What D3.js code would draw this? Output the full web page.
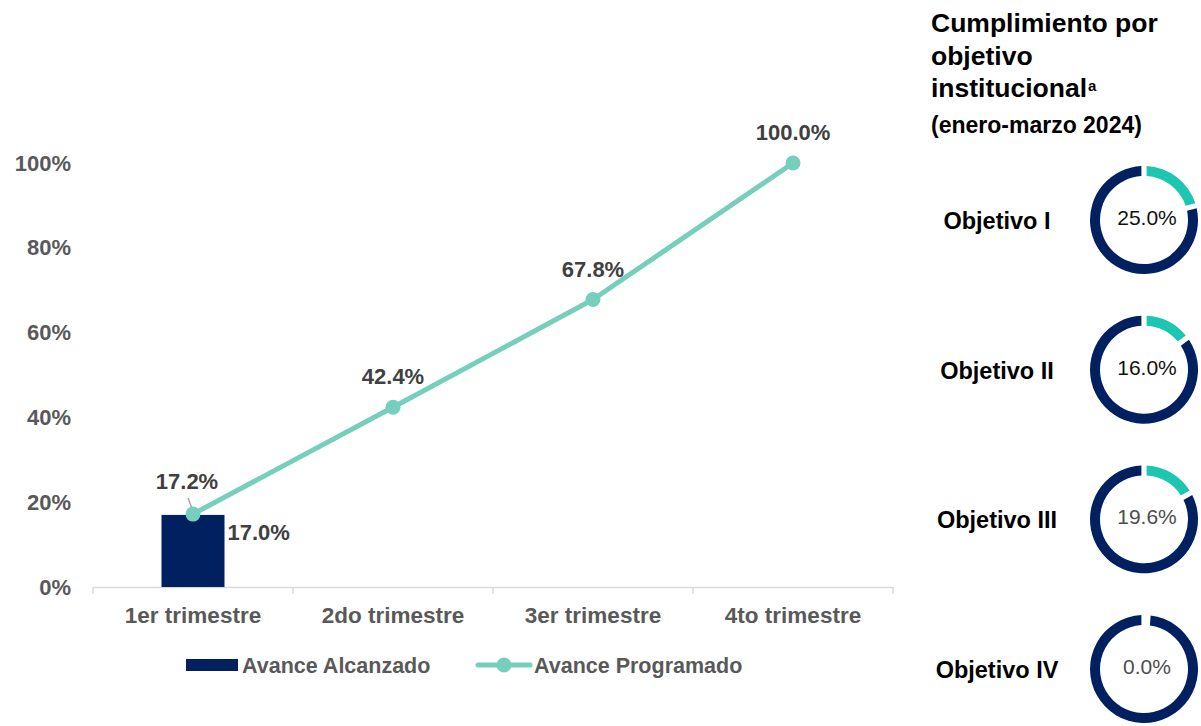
<!DOCTYPE html>
<html>
<head>
<meta charset="utf-8">
<script src="https://cdn.jsdelivr.net/npm/d3@7"></script>
<style>
  html, body { margin: 0; padding: 0; background: #ffffff; }
  svg { display: block; }
</style>
</head>
<body>
<svg id="chart" width="1201" height="726"></svg>
<script>
// ---------- data ----------
const categories = ["1er trimestre", "2do trimestre", "3er trimestre", "4to trimestre"];
const avanceAlcanzado = [17.0, null, null, null];
const avanceProgramado = [17.2, 42.4, 67.8, 100.0];
const yTicks = [0, 20, 40, 60, 80, 100];
const seriesNames = ["Avance Alcanzado", "Avance Programado"];

const objetivos = ["Objetivo I", "Objetivo II", "Objetivo III", "Objetivo IV"];
const cumplimiento = [25.0, 16.0, 19.6, 0.0];          // label shown in the ring
const arcoCumplido = [20, 14, 16, 0];                    // teal share of the ring as drawn (%)
const titleLines = ["Cumplimiento por", "objetivo", "institucional"];
const titleSup = "a";
const subtitle = "(enero-marzo 2024)";

// ---------- styles ----------
const NAVY = "#002060";
const LINE = "#76CFBC";
const TEAL = "#1CC6B1";
const GRAY = "#595959";
const DARK = "#404040";
const FONT = "'Liberation Sans', Arial, sans-serif";

const svg = d3.select("#chart");

// ---------- main chart ----------
const x = d3.scaleBand().domain(categories).range([93, 893]).paddingInner(0).paddingOuter(0);
const y = d3.scaleLinear().domain([0, 100]).range([587, 163]);

// y axis (labels only)
const yAxis = svg.append("g")
  .attr("transform", "translate(93,0)")
  .call(d3.axisLeft(y).tickValues(yTicks).tickFormat(d => d + "%").tickSize(0).tickPadding(22));
yAxis.select(".domain").remove();
yAxis.selectAll("text")
  .attr("font-family", FONT).attr("font-weight", "bold").attr("font-size", 22)
  .attr("fill", GRAY);

// x axis
const xAxis = svg.append("g")
  .attr("transform", `translate(0,${y(0)})`)
  .call(d3.axisBottom(x).tickSize(0).tickPadding(20));
xAxis.select(".domain").attr("stroke", "#D9D9D9").attr("stroke-width", 1.5);
xAxis.selectAll("text")
  .attr("font-family", FONT).attr("font-weight", "bold").attr("font-size", 22.5)
  .attr("fill", GRAY);
const bounds = categories.map(c => x(c)).concat([x(categories[categories.length - 1]) + x.bandwidth()]);
xAxis.selectAll("line.bound").data(bounds).enter().append("line")
  .attr("class", "bound")
  .attr("x1", d => d).attr("x2", d => d)
  .attr("y1", 0).attr("y2", 7)
  .attr("stroke", "#D9D9D9").attr("stroke-width", 1.5);

// bars
const barW = x.bandwidth() * 0.315;
const barData = categories.map((c, i) => ({ c, v: avanceAlcanzado[i] })).filter(d => d.v != null);
svg.append("g").selectAll("rect").data(barData).enter().append("rect")
  .attr("x", d => x(d.c) + (x.bandwidth() - barW) / 2)
  .attr("y", d => y(d.v))
  .attr("width", barW)
  .attr("height", d => y(0) - y(d.v))
  .attr("fill", NAVY);

svg.append("g").selectAll("text").data(barData).enter().append("text")
  .attr("x", d => x(d.c) + (x.bandwidth() + barW) / 2 + 3)
  .attr("y", d => y(d.v) + 25)
  .attr("font-family", FONT).attr("font-weight", "bold").attr("font-size", 22)
  .attr("fill", DARK)
  .text(d => d.v.toFixed(1) + "%");

// line
const lineData = categories.map((c, i) => ({ c, v: avanceProgramado[i], i }));
const cx = d => x(d.c) + x.bandwidth() / 2;
svg.append("path")
  .datum(lineData)
  .attr("d", d3.line().x(cx).y(d => y(d.v)))
  .attr("fill", "none").attr("stroke", LINE).attr("stroke-width", 5)
  .attr("stroke-linejoin", "round");

// leader line for first label
svg.append("line")
  .attr("x1", cx(lineData[0]) - 5).attr("y1", y(lineData[0].v) - 16)
  .attr("x2", cx(lineData[0])).attr("y2", y(lineData[0].v) - 3)
  .attr("stroke", "#A6A6A6").attr("stroke-width", 1.5);

svg.append("g").selectAll("circle").data(lineData).enter().append("circle")
  .attr("cx", cx).attr("cy", d => y(d.v)).attr("r", 7.5)
  .attr("fill", LINE);

svg.append("g").selectAll("text").data(lineData).enter().append("text")
  .attr("x", d => cx(d) - (d.i === 0 ? 6 : 0))
  .attr("y", d => y(d.v) - (d.i === 0 ? 25 : 23))
  .attr("text-anchor", "middle")
  .attr("font-family", FONT).attr("font-weight", "bold").attr("font-size", 22)
  .attr("fill", DARK)
  .text(d => d.v.toFixed(1) + "%");

// legend
const leg = svg.append("g");
leg.append("rect").attr("x", 186).attr("y", 659).attr("width", 52).attr("height", 12).attr("fill", NAVY);
leg.append("text").attr("x", 242).attr("y", 673)
  .attr("font-family", FONT).attr("font-weight", "bold").attr("font-size", 21.5).attr("fill", GRAY)
  .text(seriesNames[0]);
leg.append("line").attr("x1", 478).attr("x2", 530).attr("y1", 665).attr("y2", 665)
  .attr("stroke", LINE).attr("stroke-width", 5).attr("stroke-linecap", "round");
leg.append("circle").attr("cx", 504).attr("cy", 665).attr("r", 7.5).attr("fill", LINE);
leg.append("text").attr("x", 534).attr("y", 673)
  .attr("font-family", FONT).attr("font-weight", "bold").attr("font-size", 21.5).attr("fill", GRAY)
  .text(seriesNames[1]);

// ---------- right panel ----------
const title = svg.append("text")
  .attr("font-family", FONT).attr("font-weight", "bold").attr("font-size", 26.5).attr("fill", "#000");
titleLines.forEach((t, i) => {
  title.append("tspan").attr("x", 931).attr("y", 32 + i * 32.5).text(t);
  if (i === titleLines.length - 1) {
    title.append("tspan").attr("dx", 1).attr("dy", -6).attr("font-size", 15).text(titleSup);
  }
});
svg.append("text").attr("x", 931).attr("y", 133)
  .attr("font-family", FONT).attr("font-weight", "bold").attr("font-size", 23).attr("fill", "#000")
  .text(subtitle);

const rowY = d3.scalePoint().domain(objetivos).range([220, 669]);
const R = 54, thick = 10;
const pie = d3.pie().sort(null).value(d => d).padAngle(0.075);
const arc = d3.arc().innerRadius(R - thick).outerRadius(R);

objetivos.forEach((o, i) => {
  const g = svg.append("g").attr("transform", `translate(1144,${rowY(o)})`);
  const vals = [arcoCumplido[i], 100 - arcoCumplido[i]];
  g.selectAll("path").data(pie(vals)).enter().append("path")
    .attr("d", arc)
    .attr("fill", (d, j) => j === 0 ? TEAL : NAVY);
  g.append("text").attr("x", 3).attr("y", 5)
    .attr("text-anchor", "middle")
    .attr("font-family", FONT).attr("font-size", 21)
    .attr("fill", i < 2 ? "#111" : "#4D4D4D")
    .text(cumplimiento[i].toFixed(1) + "%");
  svg.append("text").attr("x", 997).attr("y", rowY(o) + 9)
    .attr("text-anchor", "middle")
    .attr("font-family", FONT).attr("font-weight", "bold").attr("font-size", 23.5).attr("fill", "#000")
    .text(o);
});
</script>
</body>
</html>
